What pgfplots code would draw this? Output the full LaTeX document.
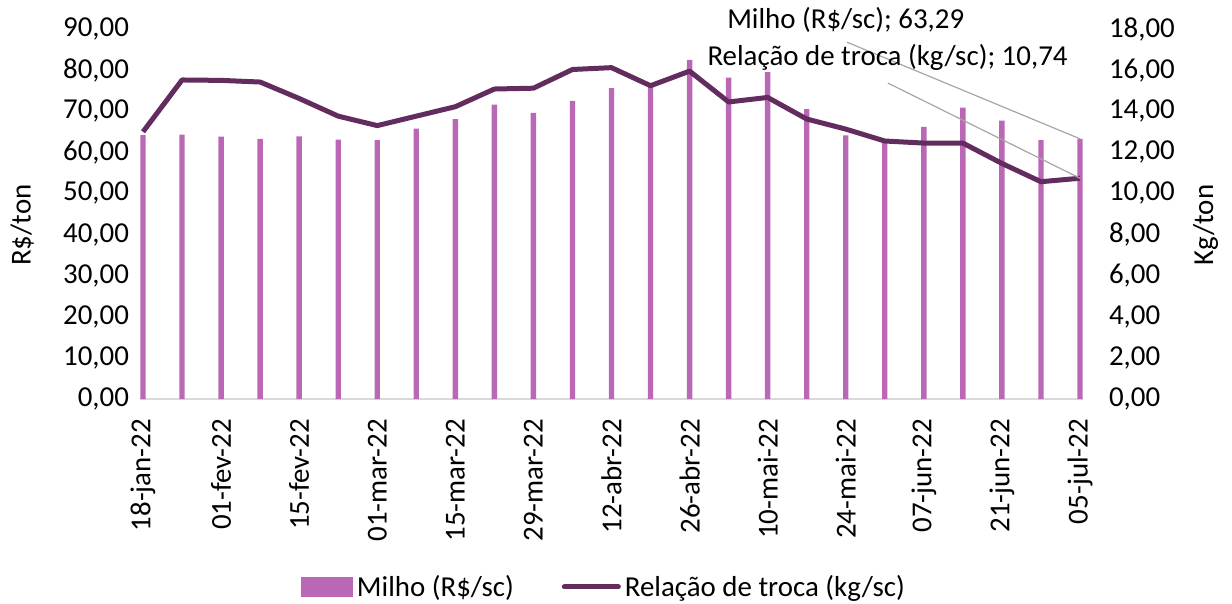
\documentclass[border=0pt]{standalone}
\usepackage{fontspec}
\setmainfont{Carlito}
\usepackage{pgfplots}
\pgfplotsset{compat=1.18}
\definecolor{barcol}{RGB}{186,104,182}
\definecolor{linecol}{RGB}{99,44,95}
\definecolor{basecol}{RGB}{217,217,217}
\definecolor{leadcol}{RGB}{166,166,166}

% Milho (R$/sc), weekly
\pgfplotstableread{
x y
0 64.2
1 64.3
2 63.8
3 63.3
4 63.9
5 63.1
6 63.0
7 65.8
8 68.1
9 71.6
10 69.6
11 72.5
12 75.6
13 76.0
14 82.5
15 78.2
16 79.5
17 70.5
18 64.1
19 62.5
20 66.2
21 70.9
22 67.7
23 63.0
24 63.29
}\milho

% Relacao de troca (kg/sc)
\pgfplotstableread{
x y
0 13.00
1 15.52
2 15.50
3 15.42
4 14.62
5 13.76
6 13.30
7 13.76
8 14.22
9 15.08
10 15.12
11 16.03
12 16.12
13 15.24
14 15.95
15 14.45
16 14.67
17 13.62
18 13.13
19 12.55
20 12.45
21 12.45
22 11.46
23 10.57
24 10.74
}\troca

\pgfplotsset{
  every axis/.append style={
    scale only axis,
    width=471.5bp, height=185bp,
    xmin=-0.077, xmax=24.077,
    font=\fontsize{14.5}{17}\selectfont,
    major tick length=0pt,
    clip=false,
    /pgf/number format/.cd, fixed, fixed zerofill, precision=2, use comma, 1000 sep={}, assume math mode=true,
  },
}

\begin{document}
\begin{tikzpicture}
\useasboundingbox (-70bp,-102.5bp) rectangle (546bp,199.5bp);
\begin{axis}[
  at={(0,0)}, anchor=south west,
  ymin=0, ymax=90, ytick={0,10,...,90},
  axis x line*=bottom, axis y line*=left,
  x axis line style={draw=basecol, line width=1bp, -},
  y axis line style={draw=none},
  xtick={0,2,...,24},
  xticklabels={18-jan-22,01-fev-22,15-fev-22,01-mar-22,15-mar-22,29-mar-22,12-abr-22,26-abr-22,10-mai-22,24-mai-22,07-jun-22,21-jun-22,05-jul-22},
  xticklabel style={rotate=90, anchor=east},
  xticklabel shift=6.5bp,
  yticklabel style={xshift=-2bp},
  ylabel={R\$/ton},
  ylabel style={at={(axis description cs:-0.125,0.47)}, anchor=center},
  legend style={at={(0.493,-0.508)}, anchor=center, draw=none, fill=none,
    legend columns=2, font=\fontsize{14.5}{17}\selectfont,
    /tikz/every even column/.append style={column sep=22bp}},
]
\addplot[ybar, bar width=2.7bp, bar shift=0pt, fill=barcol, draw=none,
  legend image code/.code={\fill[barcol] (0bp,-5bp) rectangle (26bp,5bp);}]
  table[x=x, y=y] {\milho};
\addlegendentry{Milho (R\$/sc)}
\addlegendimage{linecol, line width=2.5bp, line cap=round,
  legend image code/.code={\draw[linecol, line width=2.5bp, line cap=round] (0bp,0bp) -- (27bp,0bp);}}
\addlegendentry{Relação de troca (kg/sc)}
\end{axis}
\begin{axis}[
  at={(0,0)}, anchor=south west,
  ymin=0, ymax=18, ytick={0,2,...,18},
  axis y line*=right, axis x line=none,
  y axis line style={draw=none},
  yticklabel style={anchor=west, xshift=9.5bp},
  ylabel={Kg/ton},
  ylabel style={at={(axis description cs:1.13,0.47)}, anchor=center},
]
\addplot[linecol, line width=2.5bp, line join=round, mark=none] table[x=x, y=y] {\troca};
\draw[leadcol, line width=0.6bp] (axis cs:18.03,17.36) -- (axis cs:24,12.658);
\draw[leadcol, line width=0.6bp] (axis cs:19.08,15.37) -- (axis cs:24,10.74);
\node[anchor=center, inner sep=0pt] at (axis cs:18.0,18.43) {Milho (R\$/sc); 63,29};
\node[anchor=center, inner sep=0pt] at (axis cs:19.07,16.63) {Relação de troca (kg/sc); 10,74};
\end{axis}
\end{tikzpicture}
\end{document}
